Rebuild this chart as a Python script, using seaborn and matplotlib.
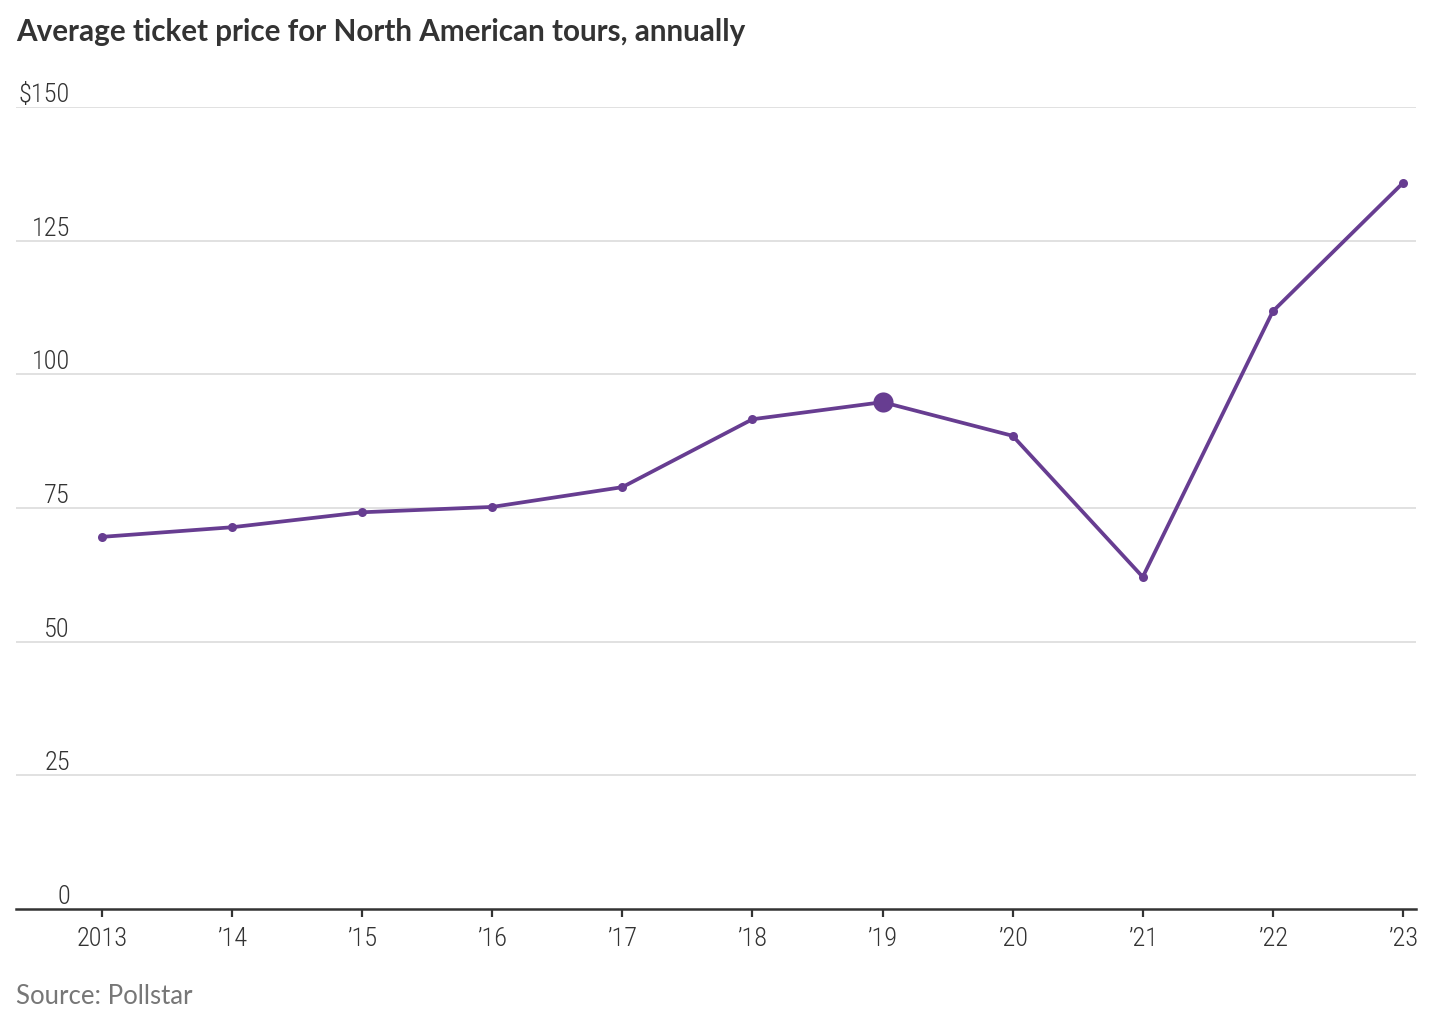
import matplotlib
matplotlib.use("Agg")
import matplotlib.pyplot as plt
import matplotlib.transforms as mtransforms
import seaborn as sns
import pandas as pd

# values
years = [2013, 2014, 2015, 2016, 2017, 2018, 2019, 2020, 2021, 2022, 2023]
prices = [69.6, 71.4, 74.2, 75.2, 78.9, 91.6, 94.8, 88.5, 62.1, 111.8, 135.8]
year_labels = ["2013", "\u201914", "\u201915", "\u201916", "\u201917", "\u201918",
               "\u201919", "\u201920", "\u201921", "\u201922", "\u201923"]
y_ticks = [0, 25, 50, 75, 100, 125, 150]
y_labels = ["0", "25", "50", "75", "100", "125", "$150"]
highlight_year = 2019

df = pd.DataFrame({"year": years, "price": prices})

sns.set_theme(style="white")
narrow = ["Roboto Condensed", "DejaVu Sans"]
plt.rcParams["font.family"] = narrow

purple = "#673d91"
dark = "#333333"

fig = plt.figure(figsize=(14.48, 10.22), dpi=100)
ax = fig.add_axes([16 / 1448, 1 - 909 / 1022, 1400 / 1448, 802 / 1022])

sns.lineplot(data=df, x="year", y="price", ax=ax, color=purple, linewidth=2.7,
             marker="o", markersize=6.5, markeredgewidth=0)
sns.scatterplot(data=df[df["year"] == highlight_year], x="year", y="price", ax=ax,
                color=purple, s=210, linewidth=0, zorder=5)

ax.set_xlim(2012.34, 2023.1)
ax.set_ylim(0, 150)

# gridlines
for v in y_ticks[1:]:
    ax.axhline(v, color="#dcdcdc", linewidth=1.2, zorder=0)

# y labels sit above the gridlines, right aligned
ax.set_yticks([])
trans = mtransforms.blended_transform_factory(fig.transFigure, ax.transData)
off = mtransforms.offset_copy(trans, fig=fig, x=0, y=5, units="dots")
for v, lab in zip(y_ticks, y_labels):
    ax.text(70 / 1448, v, lab, transform=off, ha="right", va="baseline",
            fontsize=19, fontweight="light", color=dark)

ax.set_xticks(years)
ax.set_xticklabels(year_labels, fontweight="light")
ax.tick_params(axis="x", direction="out", length=6, width=1.6, color=dark,
               labelsize=19, labelcolor=dark, pad=7, bottom=True)

for side in ["top", "right", "left"]:
    ax.spines[side].set_visible(False)
ax.spines["bottom"].set_color(dark)
ax.spines["bottom"].set_linewidth(1.8)
ax.set_xlabel("")
ax.set_ylabel("")

fig.text(16 / 1448, 1 - 32 / 1022, "Average ticket price for North American tours, annually",
         ha="left", va="center", fontsize=21.3, fontweight="bold", color=dark,
         family=["Lato", "DejaVu Sans"])
fig.text(16 / 1448, 1 - 996 / 1022, "Source: Pollstar", ha="left", va="center",
         fontsize=18.5, color="#777777", family=["Lato", "DejaVu Sans"])

fig.savefig("out.png", dpi=100)
